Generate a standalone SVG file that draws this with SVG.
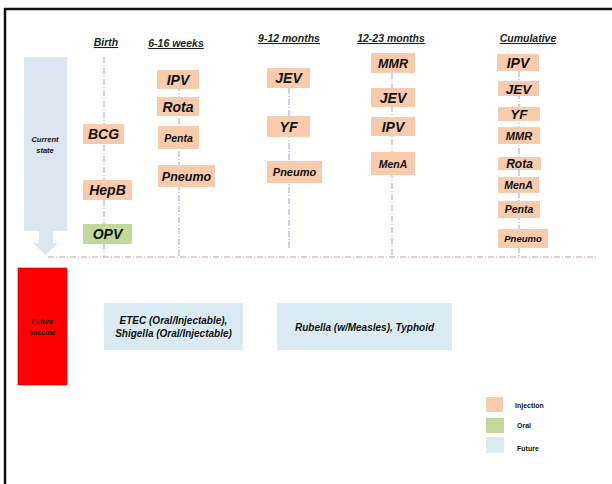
<svg xmlns="http://www.w3.org/2000/svg" width="612" height="484" viewBox="0 0 612 484">
<style>
text{font-family:"Liberation Sans",Arial,sans-serif;font-style:italic;font-weight:bold;fill:#111;text-anchor:middle}
.inj{fill:#F8CBAD}
.oral{fill:#C4D79B}
.fut{fill:#DAEAF2}
.hdr{font-size:10.5px;text-decoration:underline;fill:#222}
.vl{stroke:#A99BC8;stroke-width:1;stroke-dasharray:6 2 1 2;fill:none}
.hl{stroke:#D0A0A8;stroke-width:1.2;stroke-dasharray:6 2 1 2;fill:none}
.leg{font-style:normal;font-size:7px;text-anchor:start}
</style>
<rect x="0" y="0" width="612" height="484" fill="#fff"/>
<path d="M5 484 V9 H612" fill="none" stroke="#111" stroke-width="2.5"/>
<g id="connectors">
<line class="vl" x1="104" y1="57" x2="104" y2="257"/>
<line class="vl" x1="179" y1="85" x2="179" y2="257"/>
<line class="vl" x1="289" y1="88" x2="289" y2="250"/>
<line class="vl" x1="392" y1="73" x2="392" y2="257"/>
<line class="vl" x1="519" y1="71" x2="519" y2="257"/>
<line class="hl" x1="48" y1="257" x2="598" y2="257"/>
</g>
<g id="headers">
<text class="hdr" x="106" y="46">Birth</text>
<text class="hdr" x="176" y="47">6-16 weeks</text>
<text class="hdr" x="289" y="42">9-12 months</text>
<text class="hdr" x="391" y="42">12-23 months</text>
<text class="hdr" x="528" y="42">Cumulative</text>
</g>
<g id="current-state">
<path d="M24 57 H67 V231 H53 V243 H58 L45.5 255 L33 243 H39 V231 H24 Z" fill="#DCE6F0"/>
<text x="45" y="142" font-size="7.5">Current</text>
<text x="45" y="153" font-size="7.5">state</text>
</g>
<g id="birth-bcg"><rect class="inj" x="83" y="124" width="41" height="20"/><text x="103.5" y="139" font-size="14">BCG</text></g>
<g id="birth-hepb"><rect class="inj" x="83" y="180" width="49" height="20"/><text x="107.5" y="195" font-size="14">HepB</text></g>
<g id="birth-opv"><rect class="oral" x="83" y="224" width="49" height="20"/><text x="107.5" y="239" font-size="14">OPV</text></g>
<g id="w-ipv"><rect class="inj" x="157" y="70" width="42" height="19"/><text x="178" y="85" font-size="14">IPV</text></g>
<g id="w-rota"><rect class="inj" x="157" y="97" width="42" height="19"/><text x="178" y="112" font-size="14">Rota</text></g>
<g id="w-penta"><rect class="inj" x="158" y="126" width="41" height="23"/><text x="178.5" y="142" font-size="10.5">Penta</text></g>
<g id="w-pneumo"><rect class="inj" x="158" y="165" width="57" height="22"/><text x="186.5" y="181" font-size="12.5">Pneumo</text></g>
<g id="m9-jev"><rect class="inj" x="267" y="68" width="43" height="20"/><text x="288.5" y="83" font-size="14">JEV</text></g>
<g id="m9-yf"><rect class="inj" x="267" y="116" width="43" height="21"/><text x="288.5" y="132" font-size="14">YF</text></g>
<g id="m9-pneumo"><rect class="inj" x="267" y="161" width="55" height="22"/><text x="294.5" y="176" font-size="11">Pneumo</text></g>
<g id="m12-mmr"><rect class="inj" x="371" y="53" width="44" height="20"/><text x="393" y="68" font-size="12.5">MMR</text></g>
<g id="m12-jev"><rect class="inj" x="371" y="88" width="44" height="19"/><text x="393" y="103" font-size="14">JEV</text></g>
<g id="m12-ipv"><rect class="inj" x="371" y="117" width="44" height="19"/><text x="393" y="132" font-size="14">IPV</text></g>
<g id="m12-mena"><rect class="inj" x="371" y="152" width="44" height="23"/><text x="393" y="168" font-size="10.5">MenA</text></g>
<g id="c-ipv"><rect class="inj" x="497" y="54" width="42" height="17"/><text x="518" y="68" font-size="14">IPV</text></g>
<g id="c-jev"><rect class="inj" x="498" y="81" width="41" height="15"/><text x="518.5" y="94" font-size="13.5">JEV</text></g>
<g id="c-yf"><rect class="inj" x="498" y="107" width="42" height="14"/><text x="519" y="119" font-size="13.5">YF</text></g>
<g id="c-mmr"><rect class="inj" x="498" y="127" width="42" height="17"/><text x="519" y="140" font-size="11">MMR</text></g>
<g id="c-rota"><rect class="inj" x="498" y="157" width="43" height="13"/><text x="519.5" y="168" font-size="12">Rota</text></g>
<g id="c-mena"><rect class="inj" x="498" y="177" width="41" height="16"/><text x="518.5" y="189" font-size="10.5">MenA</text></g>
<g id="c-penta"><rect class="inj" x="498" y="201" width="42" height="17"/><text x="519" y="213" font-size="10.5">Penta</text></g>
<g id="c-pneumo"><rect class="inj" x="498" y="229" width="50" height="19"/><text x="523" y="242" font-size="9.5">Pneumo</text></g>
<g id="future-vaccine">
<rect x="18" y="268" width="49" height="117" fill="#FF0000" stroke="#B00000" stroke-width="0.6"/>
<text x="42.5" y="324" font-size="7">Future</text>
<text x="42.5" y="335" font-size="7">vaccine</text>
</g>
<g id="etec"><rect class="fut" x="104" y="303" width="139" height="47"/>
<text x="173.5" y="324" font-size="10">ETEC (Oral/Injectable),</text>
<text x="173.5" y="337" font-size="10">Shigella (Oral/Injectable)</text></g>
<g id="rubella"><rect class="fut" x="277" y="303" width="175" height="47"/>
<text x="364.5" y="331" font-size="10">Rubella (w/Measles), Typhoid</text></g>
<g id="legend">
<rect class="inj" x="486" y="397" width="17" height="15"/><text class="leg" x="515" y="408">Injection</text>
<rect class="oral" x="486" y="418" width="18" height="15"/><text class="leg" x="517" y="428">Oral</text>
<rect class="fut" x="486" y="437" width="18" height="16"/><text class="leg" x="517" y="451">Future</text>
</g>
</svg>
